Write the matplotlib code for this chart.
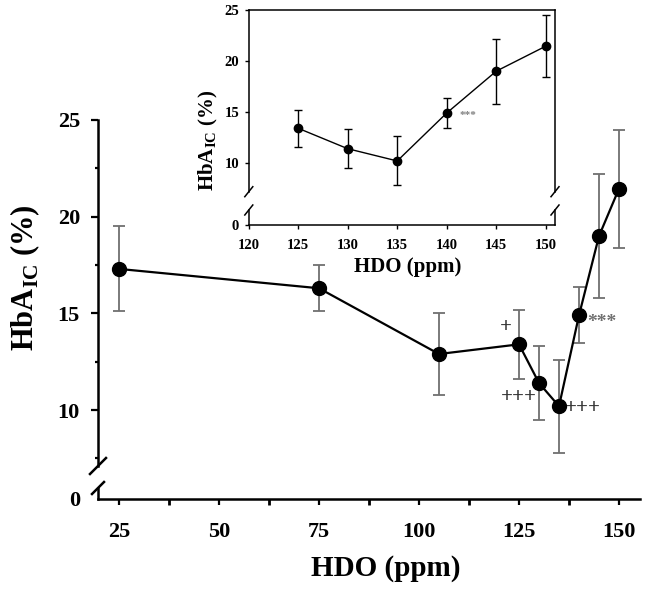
import matplotlib
matplotlib.use("Agg")
import matplotlib.pyplot as plt
from matplotlib.lines import Line2D
from matplotlib.transforms import IdentityTransform

plt.rcParams['font.family'] = ['Liberation Serif', 'DejaVu Serif']
plt.rcParams['font.weight'] = 'bold'
plt.rcParams['mathtext.fontset'] = 'custom'
plt.rcParams['mathtext.rm'] = 'Liberation Serif:bold'
plt.rcParams['mathtext.bf'] = 'Liberation Serif:bold'

# ---- data ----
hdo = [25, 75, 105, 125, 130, 135, 140, 145, 150]
hba = [17.3, 16.3, 12.9, 13.4, 11.4, 10.2, 14.9, 19.0, 21.45]
err = [2.2, 1.2, 2.1, 1.8, 1.9, 2.4, 1.45, 3.2, 3.05]
inset_start = 3  # inset shows 125..150

main_xticks = [25, 50, 75, 100, 125, 150]
main_yticks = [10, 15, 20, 25]
inset_xticks = [120, 125, 130, 135, 140, 145, 150]
inset_yticks = [10, 15, 20, 25]

W, H = 645, 590
fig = plt.figure(figsize=(W / 100, H / 100), dpi=100)


def rect(l, r, t, b):
    return [l / W, 1 - b / H, (r - l) / W, (b - t) / H]


def brk(ax, xa, ya, dx, dy, lw):
    x, y = ax.transAxes.transform((xa, ya))
    fig.add_artist(Line2D([x - dx, x + dx], [y - dy, y + dy], color='black',
                          lw=lw, transform=IdentityTransform(), clip_on=False))


# ---------------- main plot ----------------
ax = fig.add_axes(rect(98, 640, 120, 466))
axb = fig.add_axes(rect(98, 640, 488, 499))
xl = ((98 - 19) / 4, (640 - 19) / 4)
for a in (ax, axb):
    a.set_xlim(*xl)
    a.patch.set_alpha(0)
ax.set_ylim(25 - (466 - 120) / 19.34, 25)
axb.set_ylim(0, 11 / 19.34)

ax.errorbar(hdo, hba, yerr=err, fmt='none', ecolor='#707070', elinewidth=1.3,
            capsize=4.2, capthick=1.3, clip_on=False, zorder=2)
ax.plot(hdo, hba, '-', color='black', lw=1.6, clip_on=False, zorder=3)
ax.plot(hdo, hba, 'o', color='black', ms=10, clip_on=False, zorder=4)

for s in ('top', 'right', 'bottom'):
    ax.spines[s].set_visible(False)
for s in ('top', 'right'):
    axb.spines[s].set_visible(False)
for a in (ax, axb):
    for s in ('left', 'bottom'):
        a.spines[s].set_linewidth(1.8)

ax.set_xticks([])
ax.set_yticks(main_yticks)
ax.set_yticks([7.5, 12.5, 17.5, 22.5], minor=True)
ax.tick_params(axis='y', which='major', direction='out', length=5, width=1.6,
               labelsize=16, pad=8)
ax.tick_params(axis='y', which='minor', direction='out', length=2.5, width=1.6)
axb.set_yticks([0])
axb.tick_params(axis='y', direction='out', length=0, labelsize=16, pad=13)
axb.set_xticks(main_xticks)
axb.set_xticks([37.5, 62.5, 87.5, 112.5, 137.5], minor=True)
axb.tick_params(axis='x', which='major', direction='out', length=4.5, width=1.6,
                labelsize=16, pad=12)
axb.tick_params(axis='x', which='minor', direction='out', length=4, width=2)

brk(ax, 0, 0, 8, 8, 1.8)
brk(axb, 0, 1, 6, 6, 1.8)

ax.text(145.75, 14.55, '***', color='#707070', fontsize=14, ha='center', va='center')
ax.text(121.75, 14.31, '+', color='#333333', fontsize=15, ha='center', va='center')
ax.text(125.0, 10.69, '+++', color='#333333', fontsize=15, ha='center', va='center')
ax.text(141.0, 10.09, '+++', color='#333333', fontsize=15, ha='center', va='center')

fig.text(386 / W, 1 - 568 / H, 'HDO (ppm)', fontsize=21, fontweight='bold',
         ha='center', va='center')
fig.text(25 / W, 1 - 278 / H, r'HbA$_{\mathbf{IC}}$ (%)', fontsize=22,
         fontweight='bold', rotation=90, ha='center', va='center')

# ---------------- inset ----------------
ia = fig.add_axes(rect(248.8, 555, 10, 191.7))
ib = fig.add_axes(rect(248.8, 555, 210, 225.3))
for a in (ia, ib):
    a.set_xlim(120, 120 + (555 - 248.8) / 9.896)
    a.patch.set_alpha(0)
ia.set_ylim(25 - (191.7 - 10) / 10.2, 25)
ib.set_ylim(0, (225.3 - 210) / 10.2)

xs = hdo[inset_start:]
ys = hba[inset_start:]
es = err[inset_start:]
ia.errorbar(xs, ys, yerr=es, fmt='none', ecolor='black', elinewidth=1.0,
            capsize=3, capthick=1.0, clip_on=False, zorder=2)
ia.plot(xs, ys, '-', color='black', lw=1.0, zorder=3)
ia.plot(xs, ys, 'o', color='black', ms=6, zorder=4, clip_on=False)

ia.spines['bottom'].set_visible(False)
ib.spines['top'].set_visible(False)
for a in (ia, ib):
    for s in a.spines.values():
        s.set_linewidth(1.1)

ia.set_xticks([])
ia.set_yticks(inset_yticks)
ia.tick_params(axis='y', direction='out', length=3, width=1.0, labelsize=10.5, pad=4)
ib.set_yticks([0])
ib.tick_params(axis='y', direction='out', length=3, width=1.0, labelsize=10.5, pad=4)
ib.set_xticks(inset_xticks)
ib.tick_params(axis='x', direction='out', length=3, width=1.0, labelsize=10.5, pad=7)

for xa in (0, 1):
    brk(ia, xa, 0, 4, 5, 1.1)
    brk(ib, xa, 1, 4, 5, 1.1)

ia.text(142.15, 14.66, '***', color='#808080', fontsize=8, ha='center', va='center')

fig.text(408 / W, 1 - 266.7 / H, 'HDO (ppm)', fontsize=15, fontweight='bold',
         ha='center', va='center')
fig.text(208 / W, 1 - 140 / H, r'HbA$_{\mathbf{IC}}$ (%)', fontsize=15,
         fontweight='bold', rotation=90, ha='center', va='center')

fig.savefig('out.png', dpi=100)
